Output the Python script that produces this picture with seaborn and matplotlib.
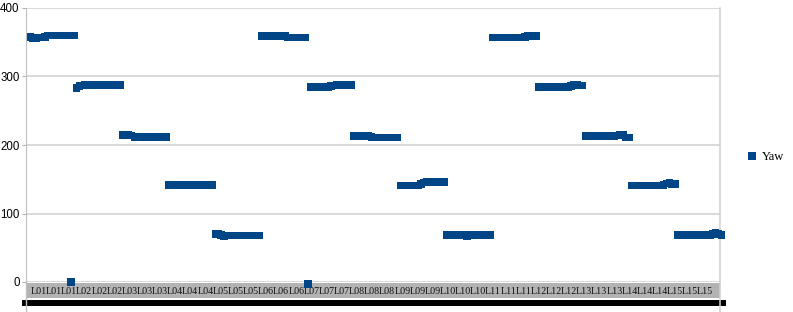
import numpy as np
import pandas as pd
import matplotlib
matplotlib.use("Agg")
import matplotlib.pyplot as plt
from matplotlib.lines import Line2D
from matplotlib.patches import Rectangle
import seaborn as sns

# ---- data ----
categories = ["L01", "L02", "L03", "L04", "L05", "L06", "L07", "L08",
              "L09", "L10", "L11", "L12", "L13", "L14", "L15"]
L01 = [358, 356, 356, 357, 357, 358, 360, 360, 360, 360, 360, 360, 360, 360, 0, 360]
L02 = [283, 286, 287, 288, 288, 288, 288, 288, 288, 288, 288, 288, 288, 288, 288, 288]
L03 = [215, 215, 215, 214, 212, 212, 212, 212, 212, 212, 212, 212, 212, 212, 212, 212]
L04 = [142, 142, 142, 142, 142, 142, 142, 142, 142, 142, 142, 142, 142, 142, 142, 142]
L05 = [70, 70, 69, 67, 68, 68, 68, 68, 68, 68, 68, 68, 68, 68, 68, 68]
L06 = [359, 359, 359, 359, 359, 359, 359, 359, 360, 357, 357, 357, 357, 357, 357, 357]
L07 = [-3, 285, 285, 285, 285, 285, 285, 285, 286, 287, 288, 288, 288, 288, 288, 288]
L08 = [213, 213, 213, 213, 213, 214, 212, 211, 211, 211, 211, 211, 211, 211, 211, 211]
L09 = [141, 141, 141, 141, 141, 141, 141, 143, 145, 146, 146, 146, 146, 146, 146, 146]
L10 = [69, 69, 69, 69, 69, 69, 69, 67, 69, 69, 69, 69, 69, 69, 69, 69]
L11 = [357, 357, 357, 357, 357, 357, 357, 357, 357, 357, 357, 358, 359, 359, 359, 359]
L12 = [285, 285, 285, 285, 285, 285, 285, 285, 285, 285, 285, 286, 288, 288, 287, 287]
L13 = [213, 213, 213, 213, 213, 213, 213, 213, 213, 213, 213, 214, 215, 215, 211, 211]
L14 = [141, 141, 141, 141, 141, 141, 141, 141, 141, 141, 141, 142, 144, 145, 143, 143]
L15 = [69, 69, 69, 69, 69, 69, 69, 69, 69, 69, 69, 69, 70, 72, 70, 69]
groups = [L01, L02, L03, L04, L05, L06, L07, L08, L09, L10, L11, L12, L13, L14, L15]
tick_labels = [c for c in categories for _ in range(3)]
y_ticks = [0, 100, 200, 300, 400]

yaw = [v for g in groups for v in g]
df = pd.DataFrame({"sample": np.arange(len(yaw)), "Yaw": yaw, "series": "Yaw"})

BLUE = "#004586"
W, H = 793, 312
fig = plt.figure(figsize=(W / 100, H / 100), dpi=100)
fig.patch.set_facecolor("white")

x0, x1, ytop, ybot = 26, 720, 8, 282

# grey category band and black bar below it (drawn under the axes)
fig.patches.append(Rectangle((x0 / W, 1 - 298 / H), (x1 - x0) / W, 15 / H,
                             transform=fig.transFigure, facecolor="#b3b3b3",
                             edgecolor="none", zorder=-5))
fig.lines.append(Line2D([22 / W, 726 / W], [1 - 302.5 / H] * 2, transform=fig.transFigure,
                        color="black", linewidth=4.3, solid_capstyle="butt", zorder=-4))
fig.lines.append(Line2D([x1 / W, x1 / W], [1 - 282 / H, 0], transform=fig.transFigure,
                        color="#d0d0d0", linewidth=1.1, zorder=-4))
fig.lines.append(Line2D([x0 / W, x0 / W], [1 - 282 / H, 0], transform=fig.transFigure,
                        color="#c0c0c0", linewidth=1.0, zorder=-4))

ax = fig.add_axes([x0 / W, 1 - ybot / H, (x1 - x0) / W, (ybot - ytop) / H])
ax.patch.set_alpha(0)

sns.scatterplot(data=df, x="sample", y="Yaw", hue="series", palette=[BLUE],
                marker="s", s=30, linewidth=0, ax=ax, clip_on=False, zorder=5)

ax.set_xlim(-1.5, 238.5)
ax.set_ylim(0, 400)
ax.set_yticks(y_ticks)
ax.set_yticklabels([str(t) for t in y_ticks], fontfamily="Liberation Sans", fontsize=8.3)
ax.yaxis.grid(True, color="#d0d0d0", linewidth=1.1)
ax.set_axisbelow(True)
ax.tick_params(axis="y", length=3, width=0.8, color="#b3b3b3", pad=1.5)
ax.set_xlabel("")
ax.set_ylabel("")

tick_pos = np.linspace(2.9, 233.4, len(tick_labels))
ax.set_xticks(tick_pos)
ax.set_xticklabels(tick_labels, fontfamily="Liberation Serif", fontsize=7.2, color="#111111")
ax.tick_params(axis="x", length=0, pad=3.5)

for s in ["top", "bottom"]:
    ax.spines[s].set_visible(False)
ax.spines["left"].set_color("#c0c0c0")
ax.spines["right"].set_color("#d0d0d0")
ax.spines["right"].set_linewidth(1.1)

leg = ax.legend(loc="center left", bbox_to_anchor=(738 / W, 1 - 157 / H),
                bbox_transform=fig.transFigure, frameon=False,
                prop={"family": "Liberation Serif", "size": 9},
                handletextpad=0.2, handlelength=1.2, borderpad=0, markerscale=1.1)

fig.savefig("out.png", dpi=100)
